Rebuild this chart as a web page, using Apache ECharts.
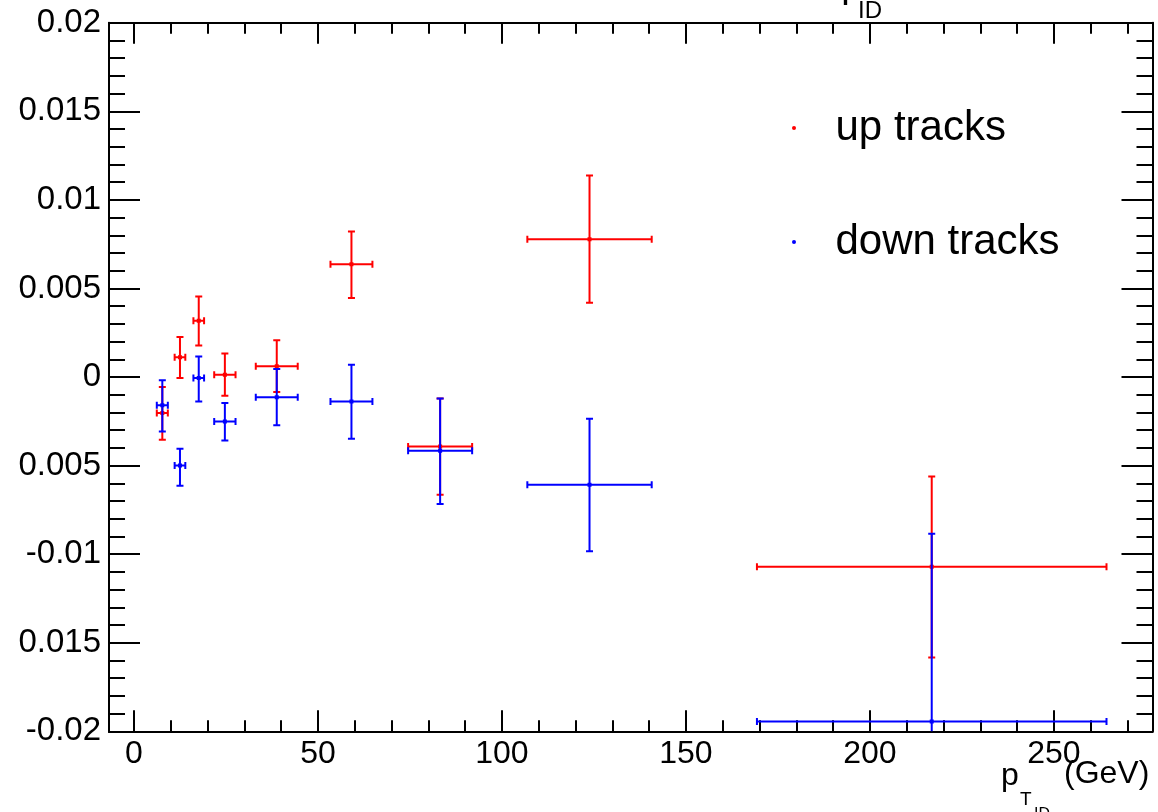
<!DOCTYPE html>
<html>
<head>
<meta charset="utf-8">
<script src="https://cdn.jsdelivr.net/npm/echarts@6/dist/echarts.min.js"></script>
<style>
html, body { margin: 0; padding: 0; background: #fff; }
#main { width: 1158px; height: 812px; }
</style>
</head>
<body>
<div id="main"></div>
<script>
var chart = echarts.init(document.getElementById('main'));

// pT bins (centre and half width, GeV)
var ptCenter    = [7.7, 12.5, 17.6, 24.7, 38.8, 59.1, 83.2, 123.8, 216.8];
var ptHalfWidth = [1.5, 1.45, 1.45, 2.9, 5.7, 5.7, 8.7, 16.9, 47.5];

// up tracks
var upVal  = [-0.00203, 0.00111, 0.00318, 0.00013, 0.0006, 0.00636, -0.00392, 0.00777, -0.01071];
var upLow  = [-0.00354, -0.00006, 0.00178, -0.00106, -0.00085, 0.00446, -0.00664, 0.00419, -0.01583];
var upHigh = [-0.00057, 0.00226, 0.00455, 0.00132, 0.00207, 0.00822, -0.00121, 0.01138, -0.00561];

// down tracks
var downVal  = [-0.0016, -0.0050, -0.00006, -0.00251, -0.00115, -0.00138, -0.00416, -0.00608, -0.01944];
var downLow  = [-0.00307, -0.00614, -0.00138, -0.00358, -0.00273, -0.00348, -0.00717, -0.00984, -0.0300];
var downHigh = [-0.00019, -0.00405, 0.00116, -0.00147, 0.00045, 0.00069, -0.00122, -0.00235, -0.00885];

// axis ticks / labels
var xMajor = [0, 50, 100, 150, 200, 250];
var xMinor = [10, 20, 30, 40, 60, 70, 80, 90, 110, 120, 130, 140, 160, 170, 180, 190, 210, 220, 230, 240, 260, 270];
var yLabels = ['-0.02', '0.015', '-0.01', '0.005', '0', '0.005', '0.01', '0.015', '0.02'];

var xMin = -6.79, xMax = 276.8;
var FONT = 'Liberation Sans';
var black = {color: '#000', width: 2};

function makeData(vals, lows, highs) {
    var out = [];
    for (var i = 0; i < ptCenter.length; i++) {
        out.push([ptCenter[i], vals[i], ptHalfWidth[i], lows[i], highs[i]]);
    }
    return out;
}

function errorBars(color) {
    return function (params, api) {
        var x = api.value(0), y = api.value(1), ex = api.value(2);
        var c = api.coord([x, y]);
        var l = api.coord([x - ex, y]), r = api.coord([x + ex, y]);
        var b = api.coord([x, api.value(3)]), t = api.coord([x, api.value(4)]);
        var cap = 3.5;
        function seg(x1, y1, x2, y2) {
            return {type: 'line', shape: {x1: x1, y1: y1, x2: x2, y2: y2},
                    style: {stroke: color, lineWidth: 2, fill: null}};
        }
        return {type: 'group', children: [
            seg(l[0], c[1], r[0], c[1]),
            seg(c[0], t[1], c[0], b[1]),
            seg(l[0], c[1] - cap, l[0], c[1] + cap),
            seg(r[0], c[1] - cap, r[0], c[1] + cap),
            seg(c[0] - cap, t[1], c[0] + cap, t[1]),
            seg(c[0] - cap, b[1], c[0] + cap, b[1]),
            {type: 'rect', shape: {x: c[0] - 2, y: c[1] - 2, width: 4, height: 4}, style: {fill: color}}
        ]};
    };
}

function xAxis(pos, vals, len, showLabel) {
    return {
        type: 'value', position: pos, min: xMin, max: xMax,
        axisLine: {show: true, onZero: false, lineStyle: black},
        axisTick: {show: true, inside: true, length: len, customValues: vals, lineStyle: black},
        axisLabel: {show: showLabel, customValues: vals, margin: 7,
                    fontSize: 32, fontFamily: FONT, color: '#000'},
        splitLine: {show: false}
    };
}

function yAxis(pos, showLabel) {
    return {
        type: 'value', position: pos, min: -0.02, max: 0.02, interval: 0.005,
        axisLine: {show: true, onZero: false, lineStyle: black},
        axisTick: {show: true, inside: true, length: 31, lineStyle: black},
        minorTick: {show: true, splitNumber: 5, length: 16, lineStyle: black},
        splitLine: {show: false},
        axisLabel: {show: showLabel, margin: 8, fontSize: 33, fontFamily: FONT, color: '#000',
                    formatter: function (v, i) { return yLabels[i]; }}
    };
}

function txt(s, x, baseline, size) {
    return {type: 'text', x: x, y: baseline - 0.3465 * size, silent: true,
            style: {text: s, x: 0, y: 0, font: size + 'px "' + FONT + '"', fill: '#000',
                    verticalAlign: 'middle', align: 'left'}};
}

var option = {
    backgroundColor: '#fff',
    animation: false,
    grid: {left: 109, right: 5.5, top: 22.7, bottom: 80.7, outerBoundsMode: 'none'},
    legend: {
        orient: 'vertical', left: 787, top: 99,
        itemWidth: 73, itemHeight: 4, itemGap: 66,
        textStyle: {fontSize: 42, fontFamily: FONT, color: '#000', lineHeight: 48},
        data: [{name: 'up tracks', icon: 'circle'}, {name: 'down tracks', icon: 'circle'}]
    },
    xAxis: [
        xAxis('bottom', xMajor, 21, true),
        xAxis('bottom', xMinor, 11, false),
        xAxis('top', xMajor, 21, false),
        xAxis('top', xMinor, 11, false)
    ],
    yAxis: [yAxis('left', true), yAxis('right', false)],
    graphic: [
        txt('p', 806, -15, 50),
        txt('T', 834.5, 8, 36),
        txt('ID', 858, 20, 24),
        txt('p', 1001, 787, 32),
        txt('T', 1020, 806, 19),
        txt('ID', 1034, 820, 16),
        txt('(GeV)', 1064, 785, 32)
    ],
    series: [
        {name: 'up tracks', type: 'custom', clip: true, xAxisIndex: 0, yAxisIndex: 0,
         itemStyle: {color: '#ff0000'}, encode: {x: 0, y: 1},
         renderItem: errorBars('#ff0000'), data: makeData(upVal, upLow, upHigh)},
        {name: 'down tracks', type: 'custom', clip: true, xAxisIndex: 0, yAxisIndex: 0,
         itemStyle: {color: '#0000ff'}, encode: {x: 0, y: 1},
         renderItem: errorBars('#0000ff'), data: makeData(downVal, downLow, downHigh)}
    ]
};
chart.setOption(option);
</script>
</body>
</html>
